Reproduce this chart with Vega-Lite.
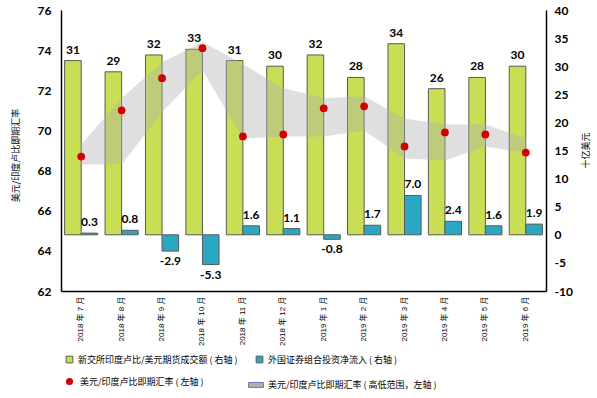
{
  "$schema": "https://vega.github.io/schema/vega-lite/v6.json",
  "width": 485,
  "height": 281,
  "autosize": {"type": "none"},
  "padding": {"left": 61, "top": 10, "right": 51, "bottom": 107},
  "background": "white",
  "config": {
    "view": {"stroke": null},
    "axis": {"domainColor": "#000000", "domainWidth": 1.5, "ticks": false, "grid": false, "labelColor": "#000000", "titleColor": "#000000"},
    "legend": {"orient": "none", "padding": 0, "labelFont": "Noto Sans CJK SC", "labelFontSize": 9, "labelColor": "#000000", "title": null, "labelLimit": 400}
  },
  "datasets": {
    "bars": [
      {"m": "2018 年 7 月", "s": "新交所印度卢比/美元期货成交额 ( 右轴 )", "v": 31},
      {"m": "2018 年 8 月", "s": "新交所印度卢比/美元期货成交额 ( 右轴 )", "v": 29},
      {"m": "2018 年 9 月", "s": "新交所印度卢比/美元期货成交额 ( 右轴 )", "v": 32},
      {"m": "2018 年 10 月", "s": "新交所印度卢比/美元期货成交额 ( 右轴 )", "v": 33},
      {"m": "2018 年 11 月", "s": "新交所印度卢比/美元期货成交额 ( 右轴 )", "v": 31},
      {"m": "2018 年 12 月", "s": "新交所印度卢比/美元期货成交额 ( 右轴 )", "v": 30},
      {"m": "2019 年 1 月", "s": "新交所印度卢比/美元期货成交额 ( 右轴 )", "v": 32},
      {"m": "2019 年 2 月", "s": "新交所印度卢比/美元期货成交额 ( 右轴 )", "v": 28},
      {"m": "2019 年 3 月", "s": "新交所印度卢比/美元期货成交额 ( 右轴 )", "v": 34},
      {"m": "2019 年 4 月", "s": "新交所印度卢比/美元期货成交额 ( 右轴 )", "v": 26},
      {"m": "2019 年 5 月", "s": "新交所印度卢比/美元期货成交额 ( 右轴 )", "v": 28},
      {"m": "2019 年 6 月", "s": "新交所印度卢比/美元期货成交额 ( 右轴 )", "v": 30},
      {"m": "2018 年 7 月", "s": "外国证券组合投资净流入 ( 右轴 )", "v": 0.3},
      {"m": "2018 年 8 月", "s": "外国证券组合投资净流入 ( 右轴 )", "v": 0.8},
      {"m": "2018 年 9 月", "s": "外国证券组合投资净流入 ( 右轴 )", "v": -2.9},
      {"m": "2018 年 10 月", "s": "外国证券组合投资净流入 ( 右轴 )", "v": -5.3},
      {"m": "2018 年 11 月", "s": "外国证券组合投资净流入 ( 右轴 )", "v": 1.6},
      {"m": "2018 年 12 月", "s": "外国证券组合投资净流入 ( 右轴 )", "v": 1.1},
      {"m": "2019 年 1 月", "s": "外国证券组合投资净流入 ( 右轴 )", "v": -0.8},
      {"m": "2019 年 2 月", "s": "外国证券组合投资净流入 ( 右轴 )", "v": 1.7},
      {"m": "2019 年 3 月", "s": "外国证券组合投资净流入 ( 右轴 )", "v": 7.0},
      {"m": "2019 年 4 月", "s": "外国证券组合投资净流入 ( 右轴 )", "v": 2.4},
      {"m": "2019 年 5 月", "s": "外国证券组合投资净流入 ( 右轴 )", "v": 1.6},
      {"m": "2019 年 6 月", "s": "外国证券组合投资净流入 ( 右轴 )", "v": 1.9}
    ],
    "spot": [
      {"m": "2018 年 7 月", "rate": 68.7, "lo": 68.3, "hi": 69.3},
      {"m": "2018 年 8 月", "rate": 71.0, "lo": 68.3, "hi": 71.6},
      {"m": "2018 年 9 月", "rate": 72.6, "lo": 70.9, "hi": 73.4},
      {"m": "2018 年 10 月", "rate": 74.1, "lo": 73.0, "hi": 74.4},
      {"m": "2018 年 11 月", "rate": 69.7, "lo": 69.6, "hi": 73.3},
      {"m": "2018 年 12 月", "rate": 69.8, "lo": 69.7, "hi": 72.1},
      {"m": "2019 年 1 月", "rate": 71.1, "lo": 69.7, "hi": 71.6},
      {"m": "2019 年 2 月", "rate": 71.2, "lo": 70.0, "hi": 71.7},
      {"m": "2019 年 3 月", "rate": 69.2, "lo": 68.6, "hi": 70.6},
      {"m": "2019 年 4 月", "rate": 69.9, "lo": 68.5, "hi": 70.3},
      {"m": "2019 年 5 月", "rate": 69.8, "lo": 69.2, "hi": 70.3},
      {"m": "2019 年 6 月", "rate": 68.9, "lo": 68.9, "hi": 69.6}
    ]
  },
  "encoding": {
    "x": {
      "field": "m", "type": "nominal",
      "scale": {"domain": ["2018 年 7 月", "2018 年 8 月", "2018 年 9 月", "2018 年 10 月", "2018 年 11 月", "2018 年 12 月", "2019 年 1 月", "2019 年 2 月", "2019 年 3 月", "2019 年 4 月", "2019 年 5 月", "2019 年 6 月"], "paddingInner": 0.18, "paddingOuter": 0.09},
      "axis": {"title": null, "labelAngle": -90, "labelFont": "Liberation Sans, Noto Sans CJK SC", "labelFontSize": 8, "labelPadding": 5, "labelLimit": 200}
    }
  },
  "layer": [
    {
      "data": {"name": "bars"},
      "encoding": {
        "y": {"field": "v", "type": "quantitative", "scale": {"domain": [-10, 40], "nice": false, "zero": false},
          "axis": {"orient": "right", "values": [-10, -5, 0, 5, 10, 15, 20, 25, 30, 35, 40], "labelExpr": "replace(datum.label, '\u2212', '-')", "labelFont": "Lato", "labelFontWeight": "bold", "labelFontSize": 12, "labelPadding": 8,
            "title": "十亿美元", "titleFont": "Noto Sans CJK SC", "titleFontSize": 9, "titleFontWeight": "normal", "titleAngle": 270, "titleX": 39, "titleY": 140, "titleAlign": "center", "titleBaseline": "middle"}},
        "xOffset": {"field": "s", "type": "nominal", "scale": {"domain": ["新交所印度卢比/美元期货成交额 ( 右轴 )", "外国证券组合投资净流入 ( 右轴 )"], "paddingInner": 0, "paddingOuter": 0}}
      },
      "layer": [
        {
          "transform": [{"filter": "datum.s === '新交所印度卢比/美元期货成交额 ( 右轴 )'"}],
          "mark": {"type": "bar", "stroke": "#595959", "strokeWidth": 1},
          "encoding": {
            "y2": {"datum": 0},
            "color": {"field": "s", "type": "nominal", "scale": {"range": ["#c9de55"]},
              "legend": {"legendX": 4, "legendY": 345, "symbolType": "square", "symbolSize": 45, "symbolStrokeColor": "#595959", "symbolStrokeWidth": 1, "labelOffset": 4}}
          }
        },
        {
          "transform": [{"filter": "datum.s === '外国证券组合投资净流入 ( 右轴 )'"}],
          "mark": {"type": "bar", "stroke": "#595959", "strokeWidth": 1},
          "encoding": {
            "y2": {"datum": 0},
            "color": {"field": "s", "type": "nominal", "scale": {"range": ["#2aa7c2"]},
              "legend": {"legendX": 194, "legendY": 345, "symbolType": "square", "symbolSize": 45, "symbolStrokeColor": "#595959", "symbolStrokeWidth": 1, "labelOffset": 4}}
          }
        }
      ],
      "resolve": {"scale": {"color": "independent"}}
    },
    {
      "data": {"name": "spot"},
      "layer": [
        {
          "mark": {"type": "area", "opacity": 0.4},
          "encoding": {
            "x": {"field": "m", "type": "nominal", "bandPosition": 0.5},
            "y": {"field": "hi", "type": "quantitative", "scale": {"domain": [62, 76], "nice": false, "zero": false},
              "axis": {"orient": "left", "values": [62, 64, 66, 68, 70, 72, 74, 76], "labelFont": "Lato", "labelFontWeight": "bold", "labelFontSize": 12, "labelPadding": 10,
                "title": "美元/印度卢比即期汇率", "titleFont": "Noto Sans CJK SC", "titleFontSize": 9, "titleFontWeight": "normal", "titleAngle": 270, "titleX": -46, "titleY": 145, "titleAlign": "center", "titleBaseline": "middle"}},
            "y2": {"field": "lo"},
            "color": {"datum": "美元/印度卢比即期汇率 ( 高低范围，左轴 )", "type": "nominal", "scale": {"range": ["#b0b0b0"]},
              "legend": {"legendX": 187, "legendY": 367, "symbolType": "M-1,-0.33H1V0.33H-1Z", "symbolSize": 225, "symbolStrokeWidth": 1, "symbolOpacity": 1, "labelOffset": 4,
                "encode": {"symbols": {"update": {"fill": {"value": "#e6e8f0"}, "stroke": {"value": "#6f7fb0"}, "opacity": {"value": 1}}}}}}
          }
        },
        {
          "mark": {"type": "point", "filled": true, "size": 60, "opacity": 1},
          "encoding": {
            "x": {"field": "m", "type": "nominal", "bandPosition": 0.5},
            "y": {"field": "rate", "type": "quantitative"},
            "color": {"datum": "美元/印度卢比即期汇率 ( 左轴 )", "type": "nominal", "scale": {"range": ["#d40000"]},
              "legend": {"legendX": 4, "legendY": 367, "symbolType": "circle", "symbolSize": 50, "labelOffset": 6}}
          }
        }
      ],
      "resolve": {"scale": {"color": "independent"}}
    },
    {
      "data": {"name": "bars"},
      "encoding": {
        "y": {"field": "v", "type": "quantitative", "scale": {"domain": [-10, 40], "nice": false, "zero": false}, "axis": null},
        "xOffset": {"field": "s", "type": "nominal", "scale": {"domain": ["新交所印度卢比/美元期货成交额 ( 右轴 )", "外国证券组合投资净流入 ( 右轴 )"], "paddingInner": 0, "paddingOuter": 0}}
      },
      "layer": [
        {
          "transform": [{"filter": "datum.s === '新交所印度卢比/美元期货成交额 ( 右轴 )'"}],
          "mark": {"type": "text", "font": "Lato", "fontWeight": "bold", "fontSize": 12, "baseline": "bottom", "dy": -4, "color": "#000000", "text": {"expr": "format(datum.v, '.0f')"}}
        },
        {
          "transform": [{"filter": "datum.s === '外国证券组合投资净流入 ( 右轴 )' && datum.v >= 0"}],
          "mark": {"type": "text", "font": "Lato", "fontWeight": "bold", "fontSize": 12, "baseline": "bottom", "dy": -4, "color": "#000000", "text": {"expr": "format(datum.v, '.1f')"}}
        },
        {
          "transform": [{"filter": "datum.s === '外国证券组合投资净流入 ( 右轴 )' && datum.v < 0"}],
          "mark": {"type": "text", "font": "Lato", "fontWeight": "bold", "fontSize": 12, "baseline": "top", "dy": 5, "color": "#000000", "text": {"expr": "replace(format(datum.v, '.1f'), '\u2212', '-')"}}
        }
      ]
    }
  ],
  "resolve": {"scale": {"y": "independent", "color": "independent"}}
}
